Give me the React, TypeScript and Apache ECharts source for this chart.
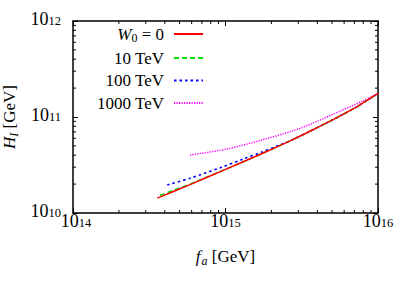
import React, { useEffect, useRef } from "react";
import * as echarts from "echarts";

// f_a [GeV] and H_I [GeV]
const faW0 = [3.57e14, 5.85e14, 1.0e15, 1.68e15, 2.65e15, 3.58e15, 5.22e15, 7.24e15, 1.0e16];
const hiW0 = [1.429e10, 1.977e10, 2.844e10, 4.064e10, 5.649e10, 7.112e10, 9.616e10, 1.274e11, 1.758e11];
const fa10 = [3.72e14, 5.85e14, 1.0e15, 1.68e15, 2.65e15, 3.58e15, 5.22e15, 7.24e15, 1.0e16];
const hi10 = [1.53e10, 2.0e10, 2.85e10, 4.064e10, 5.649e10, 7.112e10, 9.616e10, 1.274e11, 1.758e11];
const fa100 = [4.15e14, 5.85e14, 9.44e14, 1.31e15, 1.73e15, 2.22e15, 2.65e15, 3.58e15, 5.22e15, 7.24e15, 1.0e16];
const hi100 = [1.96e10, 2.3e10, 3.0e10, 3.65e10, 4.31e10, 5.05e10, 5.649e10, 7.112e10, 9.616e10, 1.274e11, 1.758e11];
const fa1000 = [5.85e14, 1.0e15, 1.68e15, 3.08e15, 5.64e15, 8.0e15, 1.0e16];
const hi1000 = [4.02e10, 4.61e10, 5.68e10, 7.62e10, 1.151e11, 1.476e11, 1.758e11];

const seriesNames = ["W0", "10 TeV", "100 TeV", "1000 TeV"];
const xTickExp = ["14", "15", "16"];
const yTickExp = ["10", "11", "12"];
const minorMult = [2, 3, 4, 5, 6, 7, 8, 9];
const xDecades = [1e14, 1e15];
const yDecades = [1e10, 1e11];

const X_MIN = 1e14, X_MAX = 1e16, Y_MIN = 1e10, Y_MAX = 1e12;
const FONT = "Liberation Serif";

const pairs = (xs: number[], ys: number[]) => xs.map((x, i) => [x, ys[i]]);

const tickRich = {
  b: { fontSize: 18, fontFamily: FONT, color: "#000", lineHeight: 14, padding: [5, 0, 0, 0], verticalAlign: "bottom" },
  f: { fontSize: 18, fontFamily: FONT, color: "#000", lineHeight: 14, padding: [5, 0, 0, 6], verticalAlign: "bottom" },
  s: { fontSize: 12.5, fontFamily: FONT, color: "#000", lineHeight: 10, verticalAlign: "top" },
};

export default function App() {
  const ref = useRef<HTMLDivElement>(null);
  useEffect(() => {
    if (!ref.current) return;
    const chart = echarts.init(ref.current, undefined, { renderer: "svg" });
    const xMinor = xDecades.flatMap((d) => minorMult.map((m) => [m * d, Y_MIN]));
    const yMinor = yDecades.flatMap((d) => minorMult.map((m) => [X_MIN, m * d]));
    const tickStyle = { stroke: "#000", lineWidth: 1 };
    const axisCommon = {
      type: "log",
      logBase: 10,
      splitLine: { show: false },
      axisLine: { show: true, onZero: false, lineStyle: { color: "#000", width: 1.5 } },
      axisTick: { show: true, inside: true, length: 5, lineStyle: { color: "#000", width: 1 } },
    };
    const lineStyles = [
      { color: "#ff0000", width: 1.5, type: "solid" },
      { color: "#00e000", width: 1.5, type: [5, 3] },
      { color: "#0000ff", width: 1.6, type: [2.5, 3] },
      { color: "#ff00ff", width: 1.5, type: [1.2, 1.3] },
    ];
    const datas = [pairs(faW0, hiW0), pairs(fa10, hi10), pairs(fa100, hi100), pairs(fa1000, hi1000)];
    const textCommon = { fontSize: 17, fontFamily: FONT, color: "#000", lineHeight: 17 };
    chart.setOption({
      animation: false,
      textStyle: { fontFamily: FONT },
      grid: { left: 73, right: 31, top: 21, bottom: 73, outerBoundsMode: "none", containLabel: false },
      xAxis: [
        {
          ...axisCommon,
          position: "bottom",
          min: X_MIN,
          max: X_MAX,
          name: "{i|f}{sub|a}{t| [GeV]}",
          nameLocation: "middle",
          nameGap: 35,
          nameTextStyle: {
            fontFamily: FONT,
            rich: {
              i: { ...textCommon, fontStyle: "italic", lineHeight: 17 },
              sub: { fontSize: 12, fontFamily: FONT, fontStyle: "italic", color: "#000", lineHeight: 12, padding: [8, 0, 0, 1] },
              t: { ...textCommon },
            },
          },
          axisLabel: {
            margin: 3,
            fontFamily: FONT,
            formatter: (_v: number, i: number) => `{${i === 0 ? "f" : "b"}|10}{s|${xTickExp[i]}}`,
            rich: tickRich,
          },
        },
        {
          ...axisCommon,
          position: "top",
          min: X_MIN,
          max: X_MAX,
          axisLabel: { show: false },
        },
      ],
      yAxis: [
        {
          ...axisCommon,
          position: "left",
          min: Y_MIN,
          max: Y_MAX,
          name: "{i|H}{sub|I}{t| [GeV]}",
          nameLocation: "middle",
          nameGap: 48,
          nameRotate: 90,
          nameTextStyle: {
            fontFamily: FONT,
            rich: {
              i: { ...textCommon, fontStyle: "italic" },
              sub: { fontSize: 12, fontFamily: FONT, fontStyle: "italic", color: "#000", lineHeight: 12, padding: [8, 0, 0, 0] },
              t: { ...textCommon },
            },
          },
          axisLabel: {
            margin: 12,
            fontFamily: FONT,
            formatter: (_v: number, i: number) => `{b|10}{s|${yTickExp[i]}}`,
            rich: tickRich,
          },
        },
        {
          ...axisCommon,
          position: "right",
          min: Y_MIN,
          max: Y_MAX,
          axisLabel: { show: false },
        },
      ],
      legend: {
        orient: "vertical",
        align: "right",
        right: 205,
        top: 24,
        padding: 0,
        itemWidth: 29,
        itemHeight: 14,
        itemGap: 5.5,
        data: seriesNames,
        itemStyle: { opacity: 0, borderWidth: 0 },
        formatter: (name: string) =>
          name === "W0" ? "{i|W}{sub|0}{t| = 0}" : `{t|${name}}`,
        textStyle: {
          fontFamily: FONT,
          fontSize: 17,
          padding: [0, 5, 0, 0],
          rich: {
            i: { ...textCommon, fontStyle: "italic" },
            sub: { fontSize: 12, fontFamily: FONT, color: "#000", lineHeight: 12, padding: [8, 0, 0, 0] },
            t: { ...textCommon },
          },
        },
      },
      series: [
        ...datas.map((d, k) => ({
          name: seriesNames[k],
          type: "line",
          data: d,
          symbol: "none",
          smooth: 0.3,
          lineStyle: lineStyles[k],
          itemStyle: { color: lineStyles[k].color },
          z: 5 - k,
        })),
        {
          type: "custom",
          silent: true,
          clip: false,
          z: 10,
          data: xMinor,
          renderItem: (_p: any, api: any) => {
            const x = api.value(0);
            const b = api.coord([x, Y_MIN]);
            const t = api.coord([x, Y_MAX]);
            return {
              type: "group",
              children: [
                { type: "line", shape: { x1: b[0], y1: b[1], x2: b[0], y2: b[1] - 3 }, style: tickStyle },
                { type: "line", shape: { x1: t[0], y1: t[1], x2: t[0], y2: t[1] + 3 }, style: tickStyle },
              ],
            };
          },
        },
        {
          type: "custom",
          silent: true,
          clip: false,
          z: 10,
          data: yMinor,
          renderItem: (_p: any, api: any) => {
            const y = api.value(1);
            const l = api.coord([X_MIN, y]);
            const r = api.coord([X_MAX, y]);
            return {
              type: "group",
              children: [
                { type: "line", shape: { x1: l[0], y1: l[1], x2: l[0] + 3, y2: l[1] }, style: tickStyle },
                { type: "line", shape: { x1: r[0], y1: r[1], x2: r[0] - 3, y2: r[1] }, style: tickStyle },
              ],
            };
          },
        },
      ],
    } as any);
    return () => chart.dispose();
  }, []);
  return <div ref={ref} style={{ width: 409, height: 286, position: "absolute", left: 0, top: 0 }} />;
}
